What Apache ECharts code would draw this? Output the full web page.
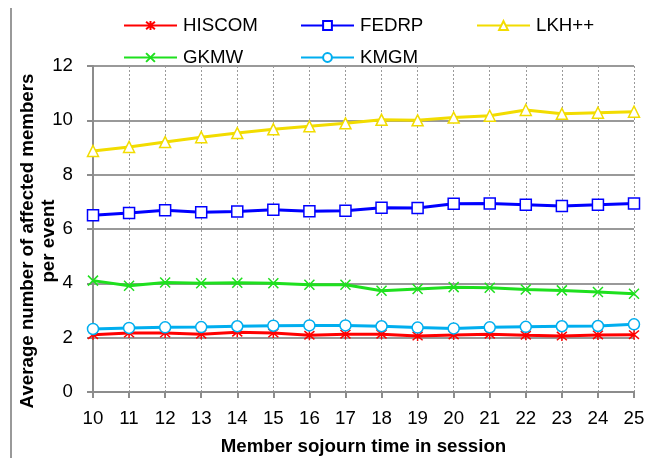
<!DOCTYPE html>
<html>
<head>
<meta charset="utf-8">
<script src="https://cdn.jsdelivr.net/npm/echarts@6/dist/echarts.min.js"></script>
<style>
  html, body { margin: 0; padding: 0; background: #fff; }
  #chart { width: 659px; height: 459px; }
</style>
</head>
<body>
<div id="chart"></div>
<script>
// sojourn time categories
const sojournTimes = ['10', '11', '12', '13', '14', '15', '16', '17', '18', '19', '20', '21', '22', '23', '24', '25']

// values
const hiscom = [2.11, 2.17, 2.17, 2.13, 2.2, 2.17, 2.09, 2.13, 2.13, 2.06, 2.1, 2.13, 2.09, 2.06, 2.1, 2.11]
const fedrp = [6.51, 6.59, 6.69, 6.62, 6.64, 6.71, 6.65, 6.67, 6.78, 6.77, 6.93, 6.94, 6.89, 6.85, 6.89, 6.94]
const lkh = [8.87, 9.02, 9.2, 9.38, 9.53, 9.67, 9.78, 9.89, 10.02, 10.0, 10.1, 10.17, 10.38, 10.24, 10.28, 10.32]
const gkmw = [4.1, 3.91, 4.03, 4.0, 4.02, 4.0, 3.95, 3.95, 3.73, 3.79, 3.86, 3.84, 3.77, 3.74, 3.68, 3.62]
const kmgm = [2.32, 2.36, 2.38, 2.39, 2.42, 2.44, 2.45, 2.45, 2.42, 2.37, 2.34, 2.38, 2.4, 2.42, 2.43, 2.49]

const yTicks = { min: 0, max: 12, interval: 2 }

const FONT = 'Liberation Sans, Arial, sans-serif'
const FS = 18.7

// stroke-only symbols
const starPath = 'path://M0,0L10,10M10,0L0,10M5,-1L5,11'
const crossPath = 'path://M0,0L10,10M10,0L0,10'

const seriesDefs = [
  { name: 'HISCOM', data: hiscom, color: '#ff0000', symbol: starPath, size: 10 },
  { name: 'FEDRP', data: fedrp, color: '#0000ff', symbol: 'rect', size: 11 },
  { name: 'LKH++', data: lkh, color: '#f2dc00', symbol: 'triangle', size: 11 },
  { name: 'GKMW', data: gkmw, color: '#1ee01e', symbol: crossPath, size: 10 },
  { name: 'KMGM', data: kmgm, color: '#00aeef', symbol: 'circle', size: 11 },
]

// legend item positions (two rows, three columns)
const legendPos = [
  { left: 123, top: 16 },
  { left: 300, top: 16 },
  { left: 476, top: 16 },
  { left: 123, top: 48 },
  { left: 300, top: 48 },
]

const chart = echarts.init(document.getElementById('chart'))

chart.setOption({
  animation: false,
  textStyle: { fontFamily: FONT },
  legend: seriesDefs.map((s, i) => ({
    data: [s.name],
    left: legendPos[i].left,
    top: legendPos[i].top,
    padding: 0,
    itemWidth: 53,
    itemHeight: 11,
    itemGap: 0,
    textStyle: { fontSize: FS, color: '#000', fontFamily: FONT, padding: [0, 0, 0, 1] },
  })),
  grid: { left: 93, right: 25, top: 66, bottom: 67, containLabel: false, outerBoundsMode: 'none' },
  xAxis: {
    type: 'category',
    data: sojournTimes,
    boundaryGap: false,
    name: 'Member sojourn time in session',
    nameLocation: 'middle',
    nameGap: 45,
    nameMoveOverlap: false,
    nameTextStyle: { fontSize: FS, fontWeight: 'bold', color: '#000', fontFamily: FONT },
    axisLine: { lineStyle: { color: '#8c8c8c', width: 2 } },
    axisTick: { alignWithLabel: true, length: 6, lineStyle: { color: '#8c8c8c', width: 2 } },
    axisLabel: { fontSize: FS, color: '#000', margin: 17, fontFamily: FONT },
    splitLine: { show: true, lineStyle: { color: '#9a9a9a', width: 1, type: [2, 2] } },
  },
  yAxis: {
    type: 'value',
    min: yTicks.min,
    max: yTicks.max,
    interval: yTicks.interval,
    name: 'Average number of affected members\nper event',
    nameLocation: 'middle',
    nameGap: 34,
    nameMoveOverlap: false,
    nameTextStyle: { fontSize: FS, fontWeight: 'bold', color: '#000', lineHeight: 21, fontFamily: FONT, padding: [0, 24, 0, 0] },
    axisLine: { show: true, lineStyle: { color: '#8c8c8c', width: 2 } },
    axisTick: { show: true, length: 6, lineStyle: { color: '#8c8c8c', width: 2 } },
    axisLabel: { fontSize: FS, color: '#000', margin: 20, fontFamily: FONT },
    splitLine: { show: true, lineStyle: { color: '#999', width: 2 } },
  },
  graphic: [
    { type: 'line', shape: { x1: 11, y1: 8, x2: 11, y2: 458 }, style: { stroke: '#999', lineWidth: 2 } },
  ],
  series: seriesDefs.map(s => ({
    name: s.name,
    type: 'line',
    data: s.data,
    symbol: s.symbol,
    symbolSize: s.size,
    showAllSymbol: true,
    lineStyle: { color: s.color, width: 3 },
    itemStyle: { color: s.symbol.startsWith('path') ? 'rgba(0,0,0,0)' : '#fff', borderColor: s.color, borderWidth: 1.5 },
    emphasis: { disabled: true },
  })),
})
</script>
</body>
</html>
